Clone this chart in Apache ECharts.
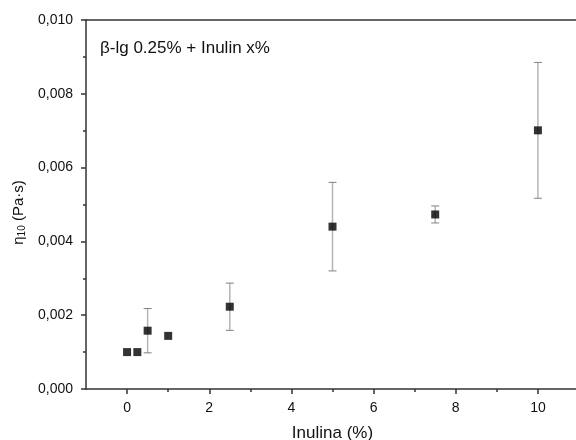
<!DOCTYPE html>
<html><head><meta charset="utf-8">
<script src="https://cdn.jsdelivr.net/npm/echarts@6/dist/echarts.min.js"></script>
<style>html,body{margin:0;padding:0;background:#fff}#c{width:576px;height:440px}</style>
</head><body><div id="c"></div>
<script>
const inulin = [0, 0.25, 0.5, 1, 2.5, 5, 7.5, 10];
const eta    = [0.00100, 0.00100, 0.00158, 0.00144, 0.00223, 0.00440, 0.00473, 0.00701];
const sd     = [0, 0, 0.00060, 0, 0.00064, 0.00120, 0.00023, 0.00184];
const xMajorTicks = [0, 2, 4, 6, 8, 10];
const xMinorTicks = [1, 3, 5, 7, 9];
const annotation = 'β-lg 0.25% + Inulin x%';

const FONT = '"Liberation Sans", Arial, sans-serif';
const pts = inulin.map((x, i) => [x, eta[i]]);
const errs = inulin.map((x, i) => [x, eta[i], sd[i]]);

const chart = echarts.init(document.getElementById('c'));
chart.setOption({
  animation: false,
  grid: { left: 86, top: 20, right: -3, bottom: 51, outerBoundsMode: 'none', containLabel: false },
  xAxis: [
    { type: 'value', min: -1, max: 11, position: 'bottom',
      name: 'Inulina (%)', nameLocation: 'middle', nameGap: 36,
      nameTextStyle: { fontFamily: FONT, fontSize: 17, color: '#111' },
      axisLine: { show: true, onZero: false, lineStyle: { color: '#333', width: 1.5 } },
      axisTick: { show: true, customValues: xMajorTicks, length: 5, lineStyle: { color: '#333', width: 1.5 } },
      axisLabel: { customValues: xMajorTicks, margin: 12, fontFamily: FONT, fontSize: 14, color: '#111' },
      splitLine: { show: false } },
    { type: 'value', min: -1, max: 11, position: 'bottom',
      axisLine: { show: false },
      axisTick: { show: true, customValues: xMinorTicks, length: 3, lineStyle: { color: '#333', width: 1.5 } },
      axisLabel: { show: false }, splitLine: { show: false } },
    { type: 'value', min: -1, max: 11, position: 'top',
      axisLine: { show: true, onZero: false, lineStyle: { color: '#333', width: 1.5 } },
      axisTick: { show: false }, axisLabel: { show: false }, splitLine: { show: false } }
  ],
  yAxis: {
    type: 'value', min: 0, max: 0.01, interval: 0.002,
    name: '{a|η}{s|10}{a| (Pa·s)}', nameLocation: 'middle', nameGap: 57, nameRotate: 90,
    nameTextStyle: { padding: [0, 16, 0, 0], rich: {
      a: { fontFamily: FONT, fontSize: 15, color: '#111' },
      s: { fontFamily: FONT, fontSize: 10, color: '#111', padding: [6, 0, 0, 0] }
    } },
    axisLine: { show: true, onZero: false, lineStyle: { color: '#333', width: 1.5 } },
    axisTick: { show: true, length: 5, lineStyle: { color: '#333', width: 1.5 } },
    minorTick: { show: true, splitNumber: 2, length: 3, lineStyle: { color: '#333', width: 1.5 } },
    axisLabel: { margin: 13, fontFamily: FONT, fontSize: 14, color: '#111',
      formatter: v => v.toFixed(3).replace('.', ',') },
    splitLine: { show: false }, minorSplitLine: { show: false }
  },
  graphic: [{ type: 'text', left: 100, top: 40,
    style: { text: annotation, font: '17px ' + FONT, fill: '#111' } }],
  series: [
    { type: 'custom', xAxisIndex: 0, data: errs, z: 2,
      renderItem: (params, api) => {
        const x = api.value(0), y = api.value(1), e = api.value(2);
        if (!e) return null;
        const top = api.coord([x, y + e]);
        const bot = api.coord([x, y - e]);
        const w = 4;
        return { type: 'group', children: [
          { type: 'line', shape: { x1: top[0], y1: top[1], x2: bot[0], y2: bot[1] },
            style: { stroke: '#b5b5b5', lineWidth: 1.5 } },
          { type: 'line', shape: { x1: top[0] - w, y1: top[1], x2: top[0] + w, y2: top[1] },
            style: { stroke: '#808080', lineWidth: 1 } },
          { type: 'line', shape: { x1: bot[0] - w, y1: bot[1], x2: bot[0] + w, y2: bot[1] },
            style: { stroke: '#808080', lineWidth: 1 } }
        ] };
      } },
    { type: 'scatter', xAxisIndex: 0, data: pts, symbol: 'rect', symbolSize: 8, z: 3,
      itemStyle: { color: '#000' } }
  ]
});
</script></body></html>
